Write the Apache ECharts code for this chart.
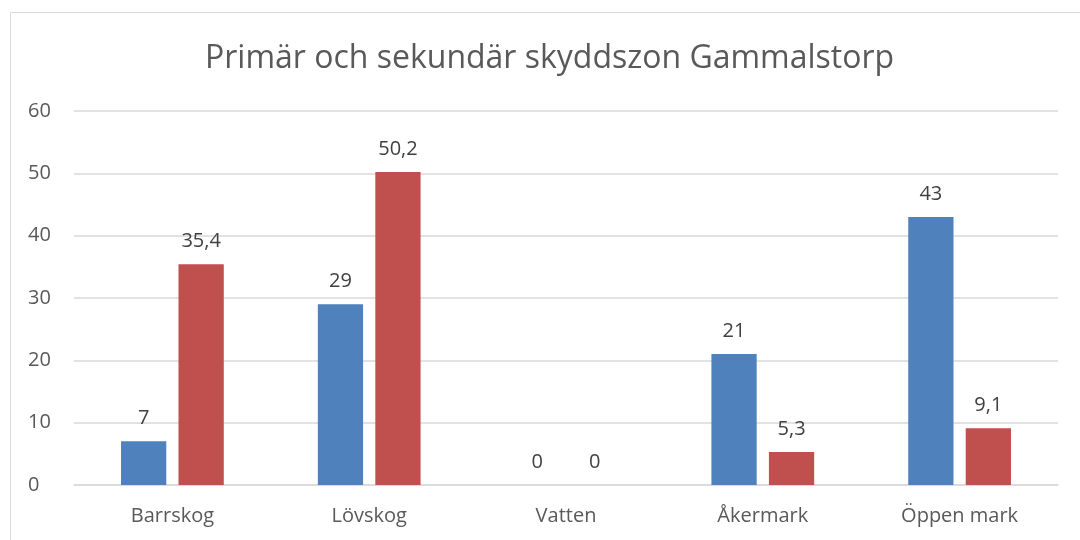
<!DOCTYPE html>
<html>
<head>
<meta charset="utf-8">
<script src="https://cdn.jsdelivr.net/npm/echarts@6/dist/echarts.min.js"></script>
<style>html,body{margin:0;padding:0;background:#fff}#c{width:1080px;height:540px}</style>
</head>
<body>
<div id="c"></div>
<script>
const categories = ['Barrskog', 'Lövskog', 'Vatten', 'Åkermark', 'Öppen mark'];
const seriesA = [7, 29, 0, 21, 43];
const seriesB = [35.4, 50.2, 0, 5.3, 9.1];
const titleText = 'Primär och sekundär skyddszon Gammalstorp';

const fontFam = '"Open Sans", "Noto Sans", sans-serif';
const chart = echarts.init(document.getElementById('c'));
const lbl = {
  show: true, position: 'top', distance: 13, color: '#404040', fontSize: 20, fontFamily: fontFam,
  formatter: p => String(p.value).replace('.', ',')
};
chart.setOption({
  animation: false,
  graphic: [{
    type: 'rect', shape: {x: 10.5, y: 12.5, width: 1100, height: 600},
    style: {fill: 'none', stroke: '#d9d9d9', lineWidth: 1}
  }],
  title: {
    text: titleText, left: 200, top: 38,
    textStyle: {color: '#595959', fontSize: 32, fontWeight: 'normal', fontFamily: fontFam}
  },
  grid: {left: 74, right: 22, top: 111, bottom: 55, containLabel: false},
  xAxis: {
    type: 'category', data: categories,
    axisLine: {lineStyle: {color: '#d9d9d9', width: 1.5}},
    axisTick: {show: false},
    axisLabel: {color: '#595959', fontSize: 20, fontFamily: fontFam, margin: 21}
  },
  yAxis: {
    type: 'value', min: 0, max: 60, interval: 10,
    axisLine: {show: false}, axisTick: {show: false},
    splitLine: {lineStyle: {color: '#d9d9d9', width: 1.5}},
    axisLabel: {color: '#595959', fontSize: 20, fontFamily: fontFam, margin: 46, align: 'left'}
  },
  series: [
    {type: 'bar', data: seriesA, barWidth: '23%', barGap: '27%', itemStyle: {color: '#4f81bd'}, label: lbl},
    {type: 'bar', data: seriesB, barWidth: '23%', barGap: '27%', itemStyle: {color: '#c0504d'}, label: lbl}
  ]
});
</script>
</body>
</html>
